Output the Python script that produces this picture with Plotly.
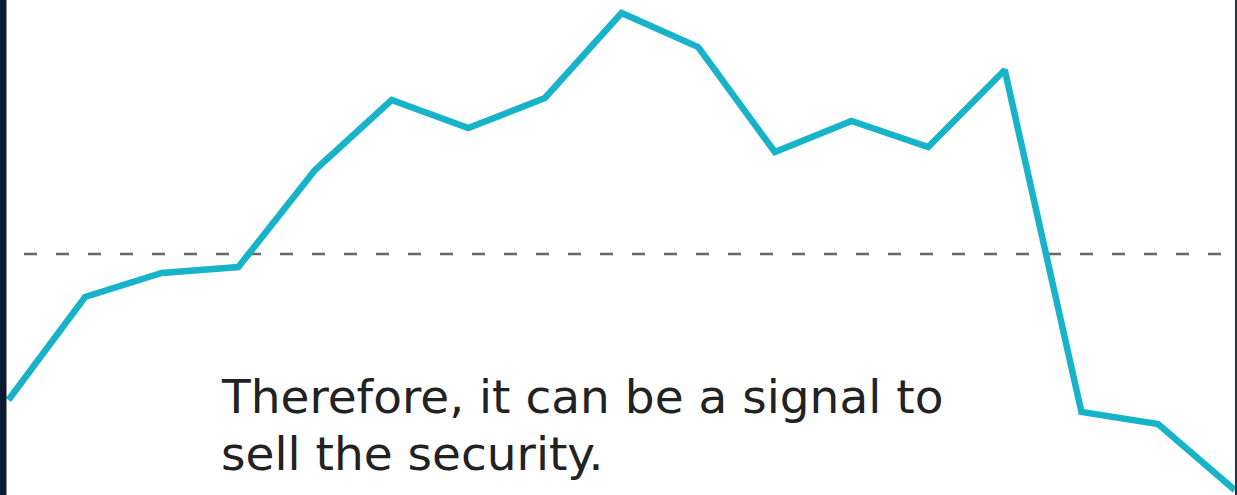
import plotly.graph_objects as go

# Data (y = price level, x = period index)
periods = list(range(17))
price = [95, 198, 222, 228, 325, 395, 367, 397, 482, 448, 343, 374, 348, 425, 83, 71, 5]
threshold = 241
note_lines = ["Therefore, it can be a signal to", "sell the security."]

W, H = 1237, 495

fig = go.Figure()
fig.add_trace(go.Scatter(
    x=periods, y=price, mode="lines",
    line=dict(color="#17b4c9", width=6.5),
    hoverinfo="skip", showlegend=False,
))

# threshold dashed line
fig.add_shape(type="line", xref="paper", yref="y",
              x0=24 / W, x1=1.0, y0=threshold, y1=threshold,
              line=dict(color="#666666", width=2.6, dash="13px,19px"), layer="below")

# dark frame at left and right
fig.add_shape(type="rect", xref="paper", yref="paper", x0=0, x1=6.5 / W, y0=0, y1=1,
              fillcolor="#0b1a30", line=dict(width=0), layer="above")
fig.add_shape(type="rect", xref="paper", yref="paper", x0=1235 / W, x1=1, y0=0, y1=1,
              fillcolor="#2a3242", line=dict(width=0), layer="above")

tops = [367, 424]
for line_text, top in zip(note_lines, tops):
    fig.add_annotation(
        xref="paper", yref="paper", x=219 / W, y=1 - top / H,
        xanchor="left", yanchor="top", align="left", showarrow=False,
        text=line_text,
        font=dict(family="DejaVu Sans", size=47, color="#222222"),
    )

fig.update_layout(
    width=W, height=H,
    margin=dict(l=0, r=0, t=0, b=0),
    paper_bgcolor="white", plot_bgcolor="white",
    xaxis=dict(range=[-0.1096, 16.03], visible=False, fixedrange=True),
    yaxis=dict(range=[0, 495], visible=False, fixedrange=True),
)

fig.write_html("out.html")
